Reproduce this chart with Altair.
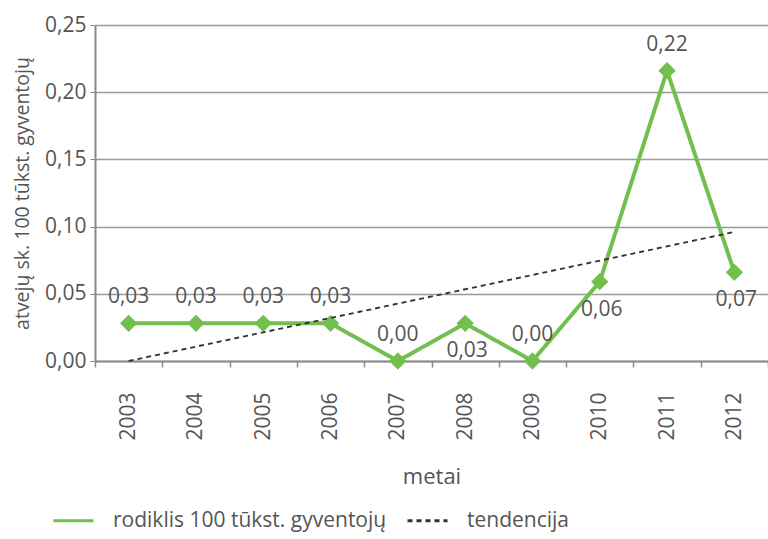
import altair as alt
import pandas as pd

years = ["2003", "2004", "2005", "2006", "2007", "2008", "2009", "2010", "2011", "2012"]
values = [0.028, 0.028, 0.028, 0.028, 0.0, 0.028, 0.0, 0.059, 0.216, 0.066]
labels = ["0,03", "0,03", "0,03", "0,03", "0,00", "0,03", "0,00", "0,06", "0,22", "0,07"]
label_side = ["above", "above", "above", "above", "above", "below", "above", "below", "above", "below"]
trend_years = ["2003", "2012"]
trend_values = [0.0, 0.096]

S1 = "rodiklis 100 tūkst. gyventojų"
S2 = "tendencija"

df = pd.DataFrame({"metai": years, "v": values, "lab": labels, "side": label_side, "series": S1})
tdf = pd.DataFrame({"metai": trend_years, "v": trend_values, "series": S2})

FONT = "Open Sans"
GREEN = "#72bf4e"
TXT = "#555555"

x = alt.X("metai:N", sort=years, title="metai",
          scale=alt.Scale(type="band", domain=years, paddingInner=0, paddingOuter=0),
          axis=alt.Axis(labelAngle=-90, tickBand="extent", grid=False, labelFontSize=21,
                        labelColor=TXT, titleFontSize=22, titleColor=TXT, titleFontWeight="normal",
                        titlePadding=26, domainColor="#8a8a8a", domainWidth=2, tickColor="#8a8a8a",
                        tickWidth=1.5, tickSize=6, labelPadding=25, labelBaseline="middle", labelAlign="right"))
y = alt.Y("v:Q", title="atvejų sk. 100 tūkst. gyventojų",
          scale=alt.Scale(domain=[0, 0.25]),
          axis=alt.Axis(values=[0, 0.05, 0.1, 0.15, 0.2, 0.25],
                        labelExpr="replace(format(datum.value, '.2f'), '.', ',')",
                        labelFontSize=21, labelColor=TXT, titleFontSize=19.5, titleColor=TXT,
                        titleFontWeight="normal", titlePadding=12, gridColor="#9a9a9a", gridWidth=1.5,
                        domainColor="#8a8a8a", domainWidth=2, tickColor="#8a8a8a", tickSize=5,
                        labelPadding=4))

color = alt.Color("series:N", scale=alt.Scale(domain=[S1, S2], range=[GREEN, "#333333"]),
                  legend=alt.Legend(title=None, orient="none", legendX=-43, legendY=474,
                                    direction="horizontal", columns=2, symbolType="stroke",
                                    symbolSize=1600, symbolStrokeWidth=3, labelFontSize=21,
                                    labelColor=TXT, labelFont=FONT, columnPadding=14,
                                    labelOffset=18, labelLimit=400))
dash = alt.StrokeDash("series:N", scale=alt.Scale(domain=[S1, S2], range=[[1, 0], [5, 4]]),
                      legend=None)

base = alt.Chart(df)
line = base.mark_line(strokeWidth=4).encode(x=x, y=y, color=color, strokeDash=dash)
pts = base.mark_point(shape="diamond", filled=True, size=300, opacity=1, color=GREEN).encode(x=x, y=y)
trend = alt.Chart(tdf).mark_line(strokeWidth=1.8).encode(x=x, y=y, color=color, strokeDash=dash)
above = base.transform_filter("datum.side == 'above'").mark_text(
    dy=-26, fontSize=21, color=TXT, font=FONT).encode(x=x, y=y, text="lab:N")
below = base.transform_filter("datum.side == 'below'").mark_text(
    dy=28, dx=2, fontSize=21, color=TXT, font=FONT).encode(x=x, y=y, text="lab:N")

chart = alt.layer(line, pts, trend, above, below).properties(
    width=673, height=336,
    autosize=alt.AutoSizeParams(type="none"),
    padding={"left": 95, "top": 25, "right": 0, "bottom": 178},
).configure(font=FONT).configure_view(stroke=None).configure_axis(labelFont=FONT, titleFont=FONT)

chart.save("out.html", embed_options={"renderer": "svg", "actions": False})
